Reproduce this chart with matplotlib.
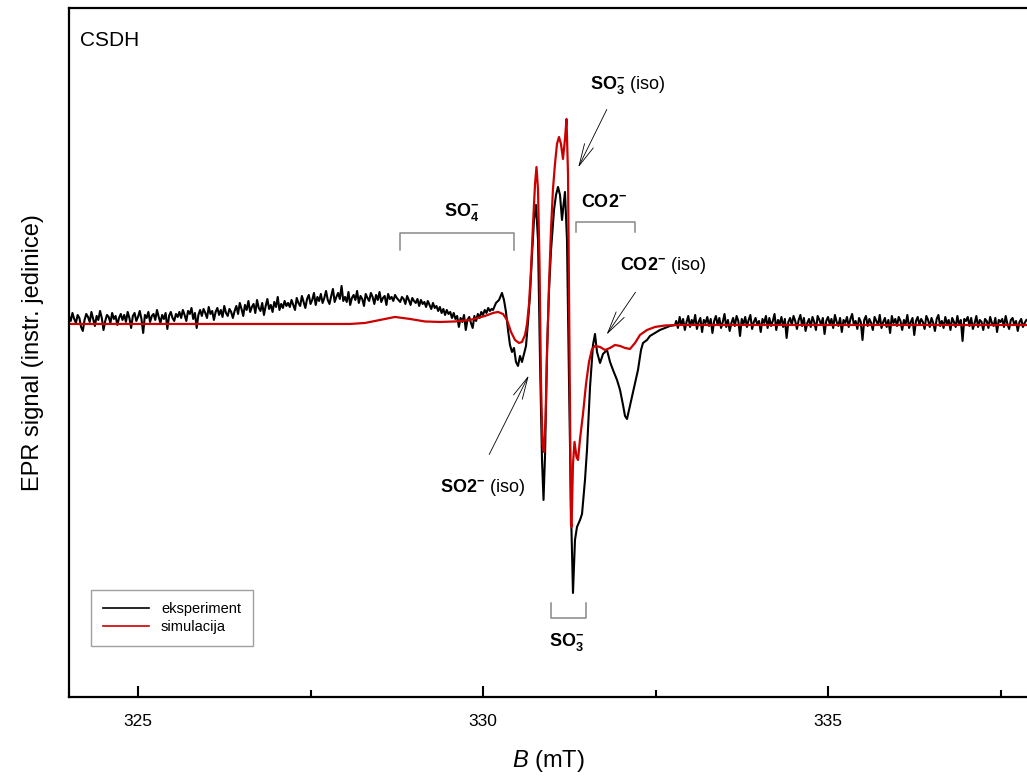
import numpy as np
import matplotlib.pyplot as plt

plt.rcParams['font.family'] = ['Liberation Sans', 'DejaVu Sans']
plt.rcParams['mathtext.fontset'] = 'custom'
plt.rcParams['mathtext.rm'] = 'Liberation Sans'
plt.rcParams['mathtext.bf'] = 'Liberation Sans:bold'
plt.rcParams['mathtext.it'] = 'Liberation Sans:italic'

# eksperiment - lijevi dio (korak 0.025 mT od 324.000 mT)
s_left = [8, 3, 11, 5, 1, 9, 6, -3, -7, 4, 10, 7, 2, 12, 5, -2, 8, 4, 13, 6, -6, 3, 9, 7, 1, 11, 5, 8, -1, 6, 10, 4,
          9, 2, 12, 6, -4, 8, 11, 3, 7, 13, 5, -9, 9, 6, 12, 2, 8, 10, 4, 14, 7, 1, 9, 5, 11, -5, 8, 12, 6, 3, 10, 7,
          12, 6, 14, 9, 3, 13, 10, 16, 5, 11, -4, 9, 14, 8, 15, 11, 6, 17, 10, 13, 4, 12, 16, 9, 14, 7, 18, 11, 8, 15, 12, 6,
          13, 18, 10, 21, 15, 8, 19, 14, 23, 12, 17, 20, 11, 24, 16, 13, 21, 9, 18, 25, 15, 19, 12, 22, 17, 27, 14, 20, 16, 23, 18, 21,
          17, 24, 19, 14, 26, 21, 18, 28, 22, 16, 25, 29, 20, 24, 31, 19, 27, 23, 30, 21, 26, 33, 24, 20, 28, 35, 22, 27, 31, 25, 38, 23,
          27, 22, 32, 19, 26, 29, 24, 33, 21, 28, 25, 18, 30, 26, 23, 31, 27, 20, 29, 24, 32, 22, 26, 28, 19, 30, 25, 27, 23, 29, 26, 24,
          22, 27, 25, 20, 28, 24, 19, 26, 23, 21, 25, 18, 24, 20, 22, 17, 23, 19, 15, 21, 16, 18, 13, 17, 11, 15, 9, 14, 10, 12, 6, 11,
          5, 8, -3, 6, 2, 9, -6, 4, 7, 1, -4, 8, 3, 10, 6, 12, 9, 14, 11, 16, 13, 15]

# eksperiment - srednji dio
b_mid = [330.145, 330.188, 330.232, 330.275, 330.304, 330.333, 330.362, 330.391,
         330.420, 330.449, 330.478, 330.507, 330.536, 330.565, 330.594, 330.623,
         330.652, 330.681, 330.710, 330.739, 330.768, 330.797, 330.826, 330.855,
         330.877, 330.899, 330.928, 330.957, 330.986, 331.029, 331.058, 331.087,
         331.116, 331.145, 331.167, 331.188, 331.217, 331.246, 331.275, 331.304,
         331.333, 331.362, 331.406, 331.435, 331.478, 331.507, 331.551, 331.594,
         331.623, 331.652, 331.696, 331.739, 331.797, 331.841, 331.884, 331.942,
         331.986, 332.029, 332.058, 332.087, 332.116, 332.159, 332.203, 332.246,
         332.290, 332.319, 332.377, 332.420, 332.493, 332.565, 332.638, 332.710,
         332.783]
s_mid = [14, 21, 24, 31, 24, 12, -6, -21,
         -28, -24, -38, -42, -32, -38, -30, -22,
         2, 29, 69, 104, 119, 84, -36, -136,
         -176, -131, -26, 34, 74, 114, 129, 137,
         129, 104, 119, 132, 84, -56, -186, -269,
         -216, -203, -196, -190, -156, -126, -63, -21,
         -10, -28, -39, -30, -26, -38, -46, -56,
         -66, -81, -92, -95, -86, -73, -59, -46,
         -26, -19, -16, -12, -9, -6, -4, -2,
         -1]

# eksperiment - desni dio (korak 0.025 mT od 332.800 mT)
s_right = [3, -4, 7, -1, 5, -6, 2, 8, -3, 4, 0, 9, -5, 2, 6, -8, 4, 1, 7, -2,
           5, -9, 3, 8, -1, 6, -4, 2, 10, -3, 4, -7, 1, 6, -2, 8, 3, -12, 5, 0,
           7, -3, 4, 9, -5, 2, 6, -1, 3, -8, 5, 1, 8, -4, 6, -2, 3, 10, -6, 4,
           0, 7, -3, 5, -14, 2, 6, -1, 8, 3, -5, 4, 9, -2, 6, -7, 1, 5, -3, 7,
           2, -6, 8, 4, -1, 6, -10, 3, 7, 0, 5, -4, 9, 2, -2, 6, -8, 4, 1, 7,
           -3, 5, 10, -1, 3, -5, 6, 2, -16, 4, 8, -2, 5, 1, -6, 7, 3, -1, 9, -4,
           2, 6, -3, 4, -9, 8, 1, 5, -2, 7, 3, -6, 4, 0, 9, -4, 2, 6, -11, 3,
           7, -1, 5, 2, -5, 8, 4, -3, 6, 1, -7, 5, 9, -2, 3, -4, 7, 0, 4, -6,
           6, 2, -3, 8, -1, 4, -17, 5, 3, 7, -2, 6, -5, 1, 8, -3, 4, 2, -6, 5,
           3, -4, 7, 1, -2, 6, -8, 4, 2, 5, -3, 8, 0, -5, 4, 6, -1, 3, -7, 2,
           5, -3, 1, 4]

# simulacija
b_sim = [324.0, 328.072, 328.290, 328.507, 328.725, 328.942, 329.159, 329.377,
         329.594, 329.812, 330.029, 330.145, 330.217, 330.290, 330.348, 330.406,
         330.464, 330.522, 330.565, 330.609, 330.638, 330.667, 330.696, 330.725,
         330.754, 330.775, 330.797, 330.819, 330.841, 330.862, 330.884, 330.906,
         330.928, 330.957, 330.986, 331.014, 331.043, 331.072, 331.101, 331.130,
         331.159, 331.188, 331.210, 331.232, 331.254, 331.275, 331.283, 331.304,
         331.326, 331.355, 331.377, 331.406, 331.449, 331.493, 331.536, 331.580,
         331.623, 331.696, 331.768, 331.841, 331.913, 331.986, 332.058, 332.130,
         332.203, 332.275, 332.377, 332.493, 332.638, 332.855, 337.884]
s_sim = [0, 0, 1, 4, 7, 5, 2.5, 2,
         2.5, 4, 8, 11, 12, 10, 4, -8,
         -16, -19, -18, -11, 0, 20, 55, 100,
         140, 157, 135, 60, -60, -120, -128, -95,
         -30, 40, 95, 135, 160, 180, 187, 180,
         165, 185, 205, 150, -30, -200, -203, -140,
         -118, -133, -136, -115, -90, -60, -38, -25,
         -22, -23, -26, -24, -21, -22, -24, -25,
         -19, -11, -6, -3, -1.5, -1, -1]

b_left = np.round(324.0 + 0.025 * np.arange(len(s_left)), 3)
b_right = np.round(332.80 + 0.025 * np.arange(len(s_right)), 3)
b_exp = np.concatenate([b_left, b_mid, b_right])
s_exp = np.concatenate([s_left, s_mid, s_right])

fig = plt.figure(figsize=(10.27, 7.81), dpi=100)
ax = fig.add_axes([0.0672, 0.1076, 0.9328, 0.8822])

ax.plot(b_exp, s_exp, color='black', lw=1.5, label='eksperiment')
ax.plot(b_sim, s_sim, color='#cc0000', lw=1.6, label='simulacija')

ax.set_xlim(324.0, 337.884)
ax.set_ylim(-373, 316)
ax.set_yticks([])
ax.set_xticks([325, 330, 335])
ax.set_xticks([327.5, 332.5, 337.5], minor=True)
ax.tick_params(axis='x', which='major', direction='in', length=8, width=1.5, labelsize=12.5, pad=12)
ax.tick_params(axis='x', which='minor', direction='in', length=5, width=1.5)
for sp in ['left', 'bottom', 'top']:
    ax.spines[sp].set_linewidth(1.6)
ax.spines['right'].set_visible(False)

ax.set_xlabel(r'$\it{B}$ (mT)', fontsize=17, labelpad=14)
ax.set_ylabel('EPR signal (instr. jedinice)', fontsize=17, labelpad=18)

ax.text(0.0115, 0.953, 'CSDH', transform=ax.transAxes, fontsize=15, va='center', ha='left')

# zagrade
gray = '#888888'
ax.plot([328.797, 328.797, 330.449, 330.449], [74, 91, 91, 74], color=gray, lw=1.1)
ax.plot([331.348, 331.348, 332.203, 332.203], [92, 102, 102, 92], color=gray, lw=1.1)
ax.plot([330.986, 330.986, 331.493, 331.493], [-279, -294, -294, -279], color=gray, lw=1.1)

bf = dict(fontsize=13)
ax.text(329.696, 112, r'$\mathbf{SO}_\mathbf{4}^{\mathbf{-}}$', ha='center', va='center', **bf)
ax.text(331.754, 121, r'$\mathbf{CO2}^{\mathbf{-}}$', ha='center', va='center', **bf)
ax.text(331.217, -318, r'$\mathbf{SO}_\mathbf{3}^{\mathbf{-}}$', ha='center', va='center', **bf)
ax.text(331.551, 239, r'$\mathbf{SO}_\mathbf{3}^{\mathbf{-}}$ (iso)', ha='left', va='center', **bf)
ax.text(331.986, 58, r'$\mathbf{CO2}^{\mathbf{-}}$ (iso)', ha='left', va='center', **bf)
ax.text(329.377, -164, r'$\mathbf{SO2}^{\mathbf{-}}$ (iso)', ha='left', va='center', **bf)

arr = dict(arrowstyle='->,head_length=1.6,head_width=0.35', color='black', lw=0.6)
ax.annotate('', xy=(331.362, 154), xytext=(331.812, 217), arrowprops=arr)
ax.annotate('', xy=(331.768, -13), xytext=(332.232, 34), arrowprops=arr)
ax.annotate('', xy=(330.681, -49), xytext=(330.072, -133), arrowprops=arr)

leg = ax.legend(loc='upper left', bbox_to_anchor=(0.023, 0.155), borderaxespad=0,
                fontsize=10.5, frameon=True, fancybox=False, handlelength=3.2,
                labelspacing=0.3, borderpad=0.8)
leg.get_frame().set_edgecolor('#888888')
leg.get_frame().set_linewidth(1.0)
for line in leg.get_lines():
    line.set_linewidth(1.2)

fig.savefig('out.png', dpi=100)
